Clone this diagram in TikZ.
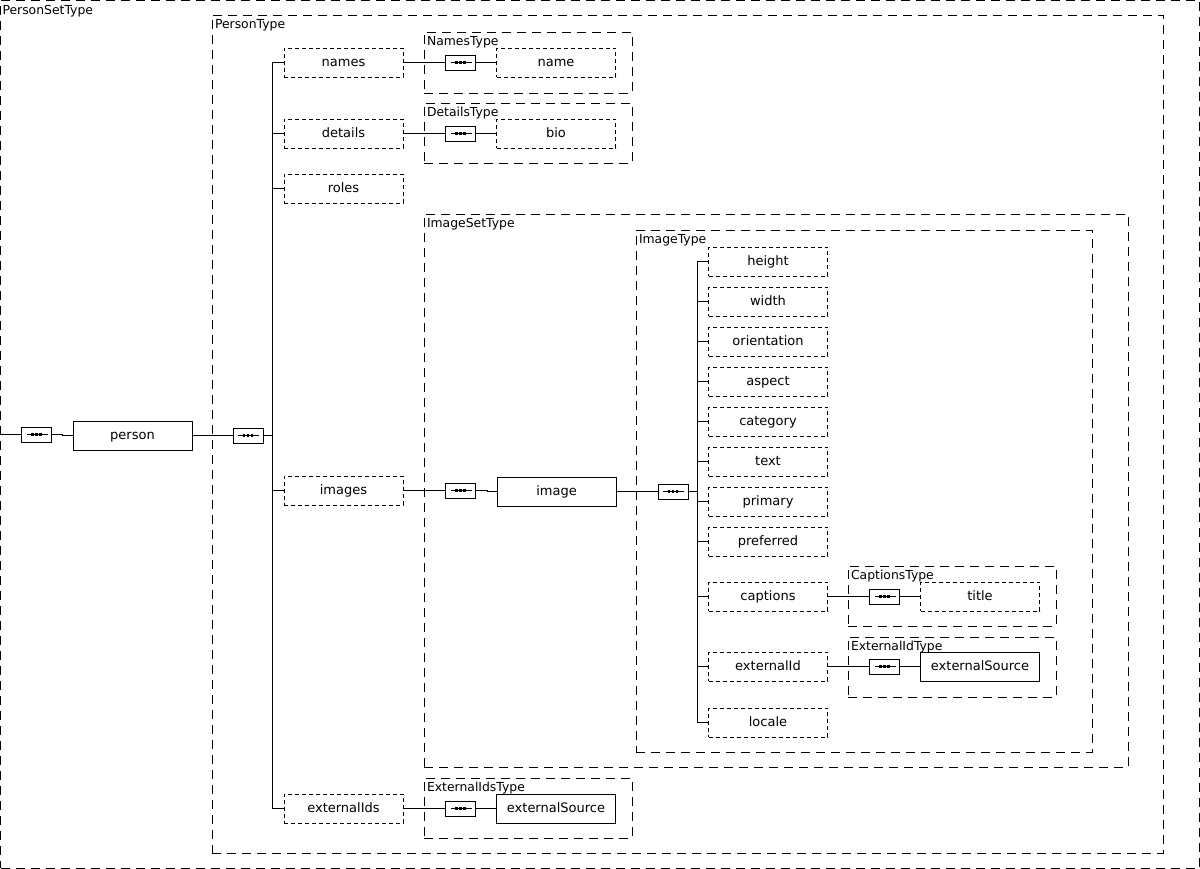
\documentclass[tikz,border=0pt]{standalone}
\usepackage{fontspec}
\setmainfont{DejaVu Sans}
\usetikzlibrary{fit}

\tikzset{
  typebox/.style={draw, dash pattern=on 9pt off 6pt, inner sep=0pt},
  typelabel/.style={anchor=base west, inner sep=0pt, font=\fontsize{12.4}{14}\selectfont},
  elem/.style={draw, dash pattern=on 4pt off 3pt, minimum width=119pt, minimum height=29pt,
    inner sep=0pt, text height=9.5pt, text depth=2.4pt, font=\fontsize{13}{15}\selectfont},
  elemsolid/.style={elem, solid},
  seqbox/.style={draw, solid, minimum width=30pt, minimum height=15pt, inner sep=0pt,
    path picture={
      \draw ([xshift=5pt]path picture bounding box.west) -- ([xshift=-4pt]path picture bounding box.east);
      \foreach \d in {-4,0,4}
        \fill ([xshift=\d pt]path picture bounding box.center) +(-1.4pt,-1.4pt) rectangle +(1.4pt,1.4pt);
    }},
}

\begin{document}
\begin{tikzpicture}[x=1pt, y=-1pt, line width=0.9pt]
  \useasboundingbox (0,0) rectangle (1200,869);

  % outer set type
  \node[typebox, fit={(0.5,0.5) (1199,868)}] (personSetT) {};
  \node[typelabel] at ([shift={(2pt,-14pt)}]personSetT.north west) {PersonSetType};
  \coordinate (psIn) at (0,434.5);
  \node[seqbox] (psSeq) at (36.5,434.5) {};
  \node[elemsolid] (person) at (132.5,435.5) {person};
  \draw (psIn) -- (psSeq.west);
  \draw (psSeq.east) -- ++(10,0) |- (person.west);

  % PersonType
  \node[typebox, fit={(212,15) (1163,853)}] (personT) {};
  \node[typelabel] at ([shift={(3pt,-14pt)}]personT.north west) {PersonType};
  \node[seqbox] (ptSeq) at (248,435.5) {};
  \draw (person.east) -- (ptSeq.west);

  \node[elem] (names) at (343.5,62.5) {names};
  \node[elem] (details) at (343.5,133.5) {details};
  \node[elem] (roles) at (343.5,188.5) {roles};
  \node[elem] (images) at (343.5,490.5) {images};
  \node[elem] (extIds) at (343.5,808.5) {externalIds};
  \foreach \n in {names,details,roles,images,extIds}
    \draw (\n.west) -- ++(-11,0) |- (ptSeq.east);

  % NamesType
  \node[typebox, fit={(424,32) (632,93)}] (namesT) {};
  \node[typelabel] at ([shift={(3pt,-14pt)}]namesT.north west) {NamesType};
  \node[seqbox] (namesSeq) at (460.5,62.5) {};
  \node[elem] (name) at (556,62.5) {name};
  \draw (names.east) -- (namesSeq.west);
  \draw (namesSeq.east) -- (name.west);

  % DetailsType
  \node[typebox, fit={(424,103) (632,163)}] (detailsT) {};
  \node[typelabel] at ([shift={(3pt,-14pt)}]detailsT.north west) {DetailsType};
  \node[seqbox] (detailsSeq) at (460.5,133.5) {};
  \node[elem] (bio) at (556,133.5) {bio};
  \draw (details.east) -- (detailsSeq.west);
  \draw (detailsSeq.east) -- (bio.west);

  % ImageSetType
  \node[typebox, fit={(424,214) (1128,767)}] (imageSetT) {};
  \node[typelabel] at ([shift={(3pt,-14pt)}]imageSetT.north west) {ImageSetType};
  \node[seqbox] (imgsSeq) at (460.5,490.5) {};
  \node[elemsolid] (image) at (556.5,491.5) {image};
  \draw (images.east) -- (imgsSeq.west);
  \draw (imgsSeq.east) -- ++(11,0) |- (image.west);

  % ImageType
  \node[typebox, fit={(636,230) (1092,752)}] (imageT) {};
  \node[typelabel] at ([shift={(3pt,-14pt)}]imageT.north west) {ImageType};
  \node[seqbox] (imgSeq) at (673,491.5) {};
  \draw (image.east) -- (imgSeq.west);
  \foreach \n/\t/\y in {imHeight/height/261.5, imWidth/width/301.5, imOrient/orientation/341.5,
      imAspect/aspect/381.5, imCategory/category/421.5, imText/text/461.5, imPrimary/primary/501.5,
      imPreferred/preferred/541.5, imCaptions/captions/596.5, imExtId/externalId/666.5, imLocale/locale/722.5}
  {
    \node[elem] (\n) at (768,\y) {\t};
    \draw (\n.west) -- ++(-11,0) |- (imgSeq.east);
  }

  % CaptionsType
  \node[typebox, fit={(848,566) (1056,626)}] (captionsT) {};
  \node[typelabel] at ([shift={(3pt,-14pt)}]captionsT.north west) {CaptionsType};
  \node[seqbox] (capSeq) at (884.5,596.5) {};
  \node[elem] (title) at (980,596.5) {title};
  \draw (imCaptions.east) -- (capSeq.west);
  \draw (capSeq.east) -- (title.west);

  % ExternalIdType
  \node[typebox, fit={(848,637) (1056,697)}] (extIdT) {};
  \node[typelabel] at ([shift={(3pt,-14pt)}]extIdT.north west) {ExternalIdType};
  \node[seqbox] (eidSeq) at (884.5,666.5) {};
  \node[elemsolid] (eidSrc) at (980,666.5) {externalSource};
  \draw (imExtId.east) -- (eidSeq.west);
  \draw (eidSeq.east) -- (eidSrc.west);

  % ExternalIdsType
  \node[typebox, fit={(424,778) (632,838)}] (extIdsT) {};
  \node[typelabel] at ([shift={(3pt,-14pt)}]extIdsT.north west) {ExternalIdsType};
  \node[seqbox] (eidsSeq) at (460.5,808.5) {};
  \node[elemsolid] (eidsSrc) at (556,808.5) {externalSource};
  \draw (extIds.east) -- (eidsSeq.west);
  \draw (eidsSeq.east) -- (eidsSrc.west);
\end{tikzpicture}
\end{document}
